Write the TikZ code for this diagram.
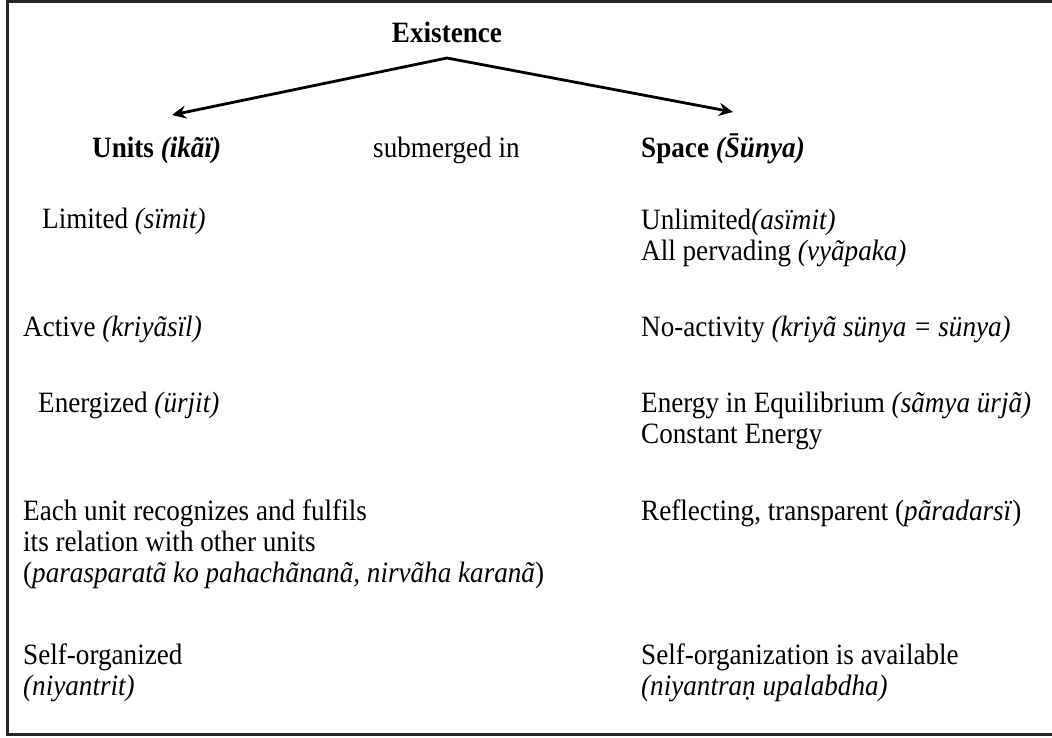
\documentclass[tikz,border=0pt]{standalone}
\usepackage{fontspec}
\setmainfont{Liberation Serif}[FakeStretch=0.92]
\usetikzlibrary{arrows.meta}
\begin{document}
\begin{tikzpicture}[x=1pt,y=-1pt,
  txt/.style={anchor=base west, inner sep=0pt, font=\fontsize{29.5}{31}\selectfont, align=left},
  ttl/.style={txt, font=\fontsize{29.5}{31}\selectfont\bfseries},
  frame/.style={line width=2.6pt, draw=black!85},
  arr/.style={line width=2.8pt, {Stealth[length=14pt,width=13pt]}-{Stealth[length=14pt,width=13pt]}}]
\useasboundingbox (0,0) rectangle (1052,737);
\draw[frame] (1052,1.3) -- (7.5,1.3) -- (7.5,734.5) -- (1052,734.5);

\node[ttl, anchor=base] (exist) at (447,42) {Existence};
\coordinate (apex) at (447,58);
\coordinate (ltip) at (172,115);
\coordinate (rtip) at (733,112);
\draw[arr] (ltip) -- (apex) -- (rtip);

\node[ttl] (units) at (92,157) {Units \textit{(ikãï)}};
\node[txt] (subm) at (373,157) {submerged in};
\node[ttl] (space) at (641,157) {Space \textit{(S̄ünya)}};

\node[txt] (lim) at (42,228) {Limited \textit{(sïmit)}};
\node[txt] (unlim) at (641,260) {Unlimited\textit{(asïmit)}\\All pervading \textit{(vyãpaka)}};

\node[txt] (act) at (23,336) {Active \textit{(kriyãsïl)}};
\node[txt] (noact) at (641,336) {No-activity \textit{(kriyã sünya = sünya)}};

\node[txt] (ener) at (38,412) {Energized \textit{(ürjit)}};
\node[txt] (equil) at (641,443) {Energy in Equilibrium \textit{(sãmya ürjã)}\\Constant Energy};

\node[txt] (each) at (23,582) {Each unit recognizes and fulfils\\its relation with other units\\(\textit{parasparatã ko pahachãnanã, nirvãha karanã})};
\node[txt] (refl) at (641,520) {Reflecting, transparent (\textit{pãradarsï})};

\node[txt] (selfo) at (23,695) {Self-organized\\\textit{(niyantrit)}};
\node[txt] (selfa) at (641,695) {Self-organization is available\\\textit{(niyantraṇ upalabdha)}};
\end{tikzpicture}
\end{document}
